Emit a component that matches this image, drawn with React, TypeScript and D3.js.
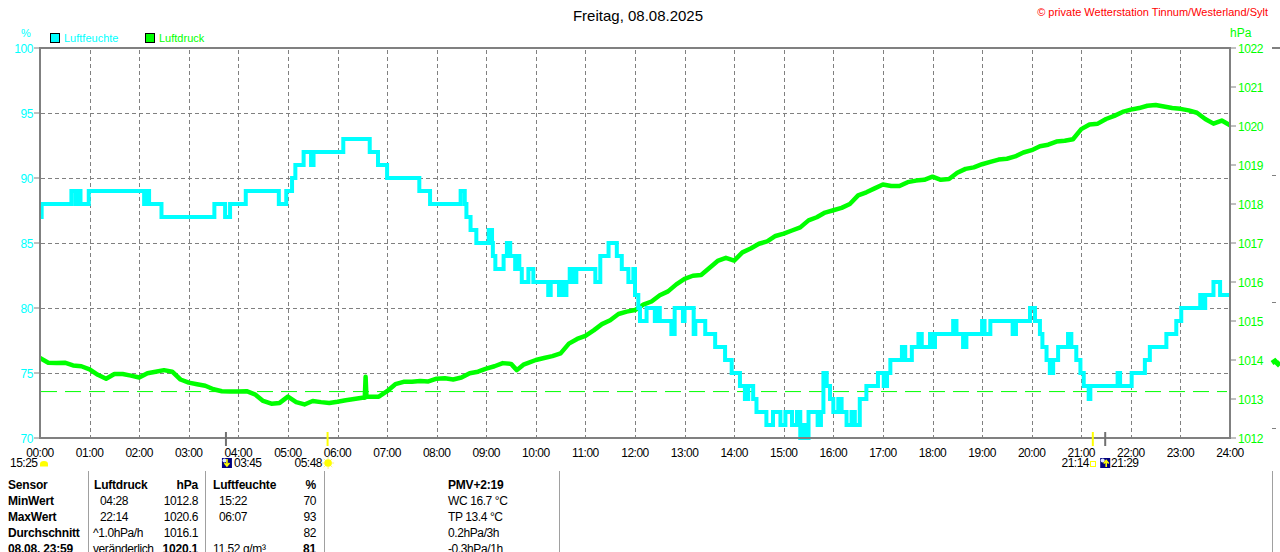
import React, { useEffect } from "react";
import * as d3 from "d3";

// ---------- data ----------
const title = "Freitag, 08.08.2025";
const copyright = "© private Wetterstation Tinnum/Westerland/Sylt";
const hourTicks = d3.range(0, 25);
const humidityTicks = [70, 75, 80, 85, 90, 95, 100];
const pressureTicks = [1012, 1013, 1014, 1015, 1016, 1017, 1018, 1019, 1020, 1021, 1022];
const humidityGrid = [75, 80, 85, 90, 95];
const referencePressure = 1013.19;

// humidity (%) step change points: [minute of day, value]
const humiditySteps: [number, number][] = [
  [0, 87], [2, 88], [38, 89], [43, 88], [46, 89], [49, 88], [59, 89], [126, 88], [128, 89], [132, 88],
  [147, 87], [211, 88], [224, 87], [230, 88], [249, 89], [289, 88], [298, 89], [305, 90], [309, 91],
  [319, 92], [328, 91], [331, 92], [367, 93], [399, 92], [409, 91], [420, 90], [459, 89], [472, 88],
  [509, 89], [514, 88], [516, 87], [521, 86], [528, 85], [543, 86], [547, 85], [548, 84], [551, 83],
  [561, 84], [565, 85], [569, 84], [575, 83], [577, 84], [580, 83], [583, 82], [591, 83], [597, 82],
  [615, 81], [618, 82], [628, 81], [631, 82], [634, 81], [637, 82], [641, 83], [645, 82], [649, 83],
  [672, 82], [678, 84], [688, 85], [698, 84], [704, 83], [712, 82], [718, 83], [720, 81], [724, 80],
  [726, 79], [734, 80], [744, 79], [747, 80], [750, 79], [764, 78], [768, 80], [778, 79], [780, 80],
  [791, 78], [793, 79], [805, 78], [817, 77], [829, 76], [837, 75], [847, 74], [853, 73], [857, 74],
  [863, 73], [867, 72], [879, 71], [887, 72], [896, 71], [902, 72], [910, 71], [916, 72], [920, 70],
  [924, 71], [926, 70], [930, 72], [941, 71], [945, 72], [948, 75], [952, 74], [956, 73], [960, 72],
  [966, 73], [970, 72], [976, 71], [982, 72], [986, 71], [992, 73], [1000, 74], [1014, 75], [1021, 74],
  [1025, 75], [1029, 76], [1043, 77], [1047, 76], [1055, 77], [1063, 78], [1067, 77], [1077, 78],
  [1080, 77], [1083, 78], [1105, 79], [1109, 78], [1117, 77], [1121, 78], [1140, 79], [1143, 78],
  [1150, 79], [1177, 78], [1181, 79], [1198, 80], [1204, 79], [1210, 78], [1213, 77], [1218, 76],
  [1222, 75], [1226, 76], [1232, 77], [1244, 78], [1248, 77], [1254, 76], [1259, 75], [1263, 74],
  [1269, 73], [1271, 74], [1304, 75], [1307, 74], [1321, 75], [1337, 76], [1343, 77], [1363, 78],
  [1375, 79], [1381, 80], [1404, 81], [1408, 80], [1410, 81], [1420, 82], [1428, 81], [1440, 81],
];

// air pressure (hPa): [minute of day, value]
const pressurePoints: [number, number][] = [
  [0, 1014.05], [10, 1013.93], [20, 1013.92], [30, 1013.93], [40, 1013.86], [50, 1013.84], [60, 1013.76],
  [70, 1013.62], [80, 1013.52], [90, 1013.64], [100, 1013.64], [110, 1013.6], [120, 1013.55], [130, 1013.66],
  [140, 1013.7], [150, 1013.74], [160, 1013.7], [170, 1013.5], [180, 1013.42], [190, 1013.38], [200, 1013.34],
  [210, 1013.25], [220, 1013.2], [230, 1013.19], [240, 1013.19], [250, 1013.2], [260, 1013.12], [270, 1012.95],
  [280, 1012.88], [290, 1012.9], [300, 1013.06], [310, 1012.92], [320, 1012.86], [330, 1012.95], [340, 1012.92],
  [350, 1012.9], [360, 1012.93], [370, 1012.97], [380, 1013.0], [390, 1013.03], [393, 1013.03], [394, 1013.57],
  [395, 1013.06], [400, 1013.06], [410, 1013.06], [420, 1013.2], [430, 1013.38], [440, 1013.44], [450, 1013.44],
  [460, 1013.46], [470, 1013.45], [480, 1013.52], [490, 1013.53], [500, 1013.5], [510, 1013.55], [520, 1013.66],
  [530, 1013.7], [540, 1013.78], [550, 1013.84], [560, 1013.92], [570, 1013.9], [577, 1013.74], [585, 1013.88],
  [590, 1013.92], [600, 1014.0], [610, 1014.05], [620, 1014.1], [630, 1014.17], [640, 1014.42], [650, 1014.54],
  [660, 1014.62], [670, 1014.76], [680, 1014.92], [690, 1015.02], [700, 1015.18], [710, 1015.24], [720, 1015.28],
  [730, 1015.42], [740, 1015.5], [750, 1015.66], [760, 1015.76], [770, 1015.94], [780, 1016.08], [790, 1016.16],
  [800, 1016.18], [810, 1016.36], [820, 1016.54], [830, 1016.62], [840, 1016.55], [850, 1016.76], [860, 1016.86],
  [870, 1016.98], [880, 1017.04], [890, 1017.18], [900, 1017.24], [910, 1017.32], [920, 1017.4], [930, 1017.58],
  [940, 1017.66], [950, 1017.78], [960, 1017.84], [970, 1017.9], [980, 1018.0], [990, 1018.22], [1000, 1018.3],
  [1010, 1018.4], [1020, 1018.5], [1030, 1018.46], [1040, 1018.46], [1050, 1018.56], [1060, 1018.6],
  [1070, 1018.62], [1080, 1018.7], [1090, 1018.62], [1100, 1018.64], [1110, 1018.8], [1120, 1018.9],
  [1130, 1018.94], [1140, 1019.02], [1150, 1019.08], [1160, 1019.14], [1170, 1019.16], [1180, 1019.22],
  [1190, 1019.32], [1200, 1019.38], [1210, 1019.48], [1220, 1019.52], [1230, 1019.6], [1240, 1019.62],
  [1250, 1019.66], [1260, 1019.92], [1270, 1020.04], [1280, 1020.06], [1290, 1020.18], [1300, 1020.26],
  [1310, 1020.36], [1320, 1020.42], [1330, 1020.46], [1340, 1020.52], [1350, 1020.54], [1360, 1020.5],
  [1370, 1020.46], [1380, 1020.44], [1390, 1020.4], [1400, 1020.34], [1410, 1020.18], [1420, 1020.06],
  [1430, 1020.14], [1440, 1020.02],
];

// sun / moon events (minute of day)
const moonSet = { label: "15:25" };
const moonRise1 = { minute: 225, label: "03:45" };
const sunRise = { minute: 348, label: "05:48" };
const sunSet = { minute: 1274, label: "21:14" };
const moonRise2 = { minute: 1289, label: "21:29" };

// table
const tableRows: string[][] = [
  ["Sensor", "Luftdruck", "hPa", "Luftfeuchte", "%", "PMV+2:19"],
  ["MinWert", "04:28", "1012.8", "15:22", "70", "WC 16.7 °C"],
  ["MaxWert", "22:14", "1020.6", "06:07", "93", "TP 13.4 °C"],
  ["Durchschnitt", "^1.0hPa/h", "1016.1", "", "82", "0.2hPa/3h"],
  ["08.08. 23:59", "veränderlich", "1020.1", "11.52 g/m³", "81", "-0.3hPa/1h"],
];
const tableDividers = [88, 205, 324, 559, 1272];

// ---------- chart ----------
const FONT = "'Liberation Sans', Arial, Helvetica, sans-serif";
const CYAN = "#00FFFF";
const GREEN = "#00FF00";
const GREY = "#808080";

export default function App() {
  useEffect(() => {
    document.body.style.margin = "0";
  }, []);

  const x = d3.scaleLinear().domain([0, 1440]).range([40, 1230]);
  const yH = d3.scaleLinear().domain([70, 100]).range([438, 48]);
  const yP = d3.scaleLinear().domain([1012, 1022]).range([438, 48]);

  const humLine = d3
    .line<[number, number]>()
    .x((d) => x(d[0]))
    .y((d) => yH(d[1]))
    .curve(d3.curveStepAfter);
  const presLine = d3
    .line<[number, number]>()
    .x((d) => x(d[0]))
    .y((d) => yP(d[1]));

  const hh = (h: number) => `${String(h).padStart(2, "0")}:00`;

  const rowY = [489, 505, 521, 537, 553];
  const boldCell = (r: number, c: number) =>
    r === 0 || c === 0 || (r === 4 && (c === 2 || c === 4));
  const colX = [8, 94, 198, 213, 316, 448];
  const colAnchor = ["start", "start", "end", "start", "end", "start"];
  const colShift = (r: number, c: number) => {
    if (r >= 1 && r <= 2 && c === 1) return 6;
    if (r >= 1 && r <= 2 && c === 3) return 6;
    if (r >= 3 && c === 1) return -1;
    return 0;
  };

  const moonIcon = (cx: number, up: boolean) => (
    <g>
      <rect x={cx - 5} y={458} width={10} height={10} fill="#000080" />
      <circle cx={cx - 2.5} cy={460.5} r={2} fill="#E0E8FF" />
      {up ? (
        <path d={`M${cx + 1},467 L${cx + 1},462 M${cx - 1.5},463.5 L${cx + 1},460.5 L${cx + 3.5},463.5`} stroke="#FFFF00" strokeWidth={1.6} fill="none" />
      ) : (
        <path d={`M${cx},459 L${cx},465 M${cx - 2.5},463 L${cx},466 L${cx + 2.5},463`} stroke="#FFFF00" strokeWidth={1.6} fill="none" />
      )}
    </g>
  );

  return (
    <svg
      width={1280}
      height={552}
      style={{ position: "fixed", left: 0, top: 0, background: "#fff" }}
      fontFamily={FONT}
    >
      <rect x={0} y={0} width={1280} height={552} fill="#fff" />
      {/* title */}
      <text x={638} y={21} textAnchor="middle" fontSize={15} fill="#000">
        {title}
      </text>
      <text x={1268} y={16} textAnchor="end" fontSize={11} fill="#FF0000">
        {copyright}
      </text>

      {/* legend */}
      <text x={26} y={37} textAnchor="middle" fontSize={11} fill={CYAN}>%</text>
      <rect x={50.5} y={33.5} width={9} height={9} fill={CYAN} stroke="#000" />
      <text x={64} y={42} fontSize={11} fill={CYAN}>Luftfeuchte</text>
      <rect x={145.5} y={33.5} width={9} height={9} fill={GREEN} stroke="#000" />
      <text x={159} y={42} fontSize={11} fill={GREEN}>Luftdruck</text>
      <text x={1230} y={37} fontSize={12} fill={GREEN}>hPa</text>

      {/* grid */}
      <g stroke={GREY} strokeWidth={1} strokeDasharray="4,3">
        {hourTicks.slice(1, 24).map((h) => (
          <line key={h} x1={Math.round(x(h * 60)) + 0.5} x2={Math.round(x(h * 60)) + 0.5} y1={50} y2={437} />
        ))}
        {humidityGrid.map((v) => (
          <line key={v} x1={41} x2={1229} y1={Math.round(yH(v)) + 0.5} y2={Math.round(yH(v)) + 0.5} />
        ))}
      </g>

      {/* reference dashed line */}
      <line
        x1={41}
        x2={1227}
        y1={yP(referencePressure)}
        y2={yP(referencePressure)}
        stroke={GREEN}
        strokeWidth={1}
        strokeDasharray="16,8"
      />

      {/* series */}
      <path d={presLine(pressurePoints) || ""} fill="none" stroke={GREEN} strokeWidth={4.5} strokeLinejoin="round" />
      <path d={humLine(humiditySteps) || ""} fill="none" stroke={CYAN} strokeWidth={4} strokeLinejoin="miter" />

      {/* frame */}
      <g stroke={GREY} strokeWidth={2} fill="none">
        <line x1={40} x2={40} y1={47} y2={439} />
        <line x1={1230} x2={1230} y1={47} y2={439} />
        <line x1={39} x2={1231} y1={48} y2={48} />
        <line x1={39} x2={1231} y1={438} y2={438} />
      </g>

      {/* left axis */}
      {humidityTicks.map((v) => (
        <g key={v}>
          <line x1={34} x2={40} y1={yH(v)} y2={yH(v)} stroke={GREY} strokeWidth={1} />
          <text x={33} y={yH(v) + 4.5} textAnchor="end" fontSize={12} fill={CYAN} letterSpacing={-0.4}>
            {v}
          </text>
        </g>
      ))}

      {/* right axis */}
      {pressureTicks.map((v) => (
        <g key={v}>
          <line x1={1230} x2={1236} y1={yP(v)} y2={yP(v)} stroke={GREY} strokeWidth={1} />
          <text x={1238} y={yP(v) + 4.5} fontSize={12} fill={GREEN} letterSpacing={-0.4}>
            {v}
          </text>
        </g>
      ))}

      {/* x axis labels */}
      {hourTicks.map((h) => (
        <text key={h} x={x(h * 60)} y={457} textAnchor="middle" fontSize={12} fill="#000" letterSpacing={-0.5}>
          {hh(h)}
        </text>
      ))}

      {/* sun/moon marks on axis */}
      <line x1={x(moonRise1.minute)} x2={x(moonRise1.minute)} y1={432} y2={446} stroke="#707070" strokeWidth={2} />
      <line x1={x(sunRise.minute)} x2={x(sunRise.minute)} y1={432} y2={446} stroke="#FFFF00" strokeWidth={2} />
      <line x1={x(sunSet.minute)} x2={x(sunSet.minute)} y1={432} y2={446} stroke="#FFFF00" strokeWidth={2} />
      <line x1={x(moonRise2.minute)} x2={x(moonRise2.minute)} y1={432} y2={446} stroke="#707070" strokeWidth={2} />

      {/* second row: events */}
      <g fontSize={12} fill="#000" letterSpacing={-0.5}>
        <text x={10} y={467}>{moonSet.label}</text>
        <text x={234} y={467}>{moonRise1.label}</text>
        <text x={322} y={467} textAnchor="end">{sunRise.label}</text>
        <text x={1089} y={467} textAnchor="end">{sunSet.label}</text>
        <text x={1111} y={467}>{moonRise2.label}</text>
      </g>
      <path d="M40,466.5 L40,464 A4,3 0 0 1 48,464 L48,466.5 Z" fill="#FFFF00" />
      {moonIcon(x(moonRise1.minute) + 1, false)}
      <g>
        {d3.range(8).map((i) => {
          const a = (i * Math.PI) / 4;
          const cx = x(sunRise.minute) + 0.5, cy = 463;
          return (
            <line key={i} x1={cx + Math.cos(a) * 3.5} y1={cy + Math.sin(a) * 3.5} x2={cx + Math.cos(a) * 6} y2={cy + Math.sin(a) * 6} stroke="#FFF080" strokeWidth={1} />
          );
        })}
        <circle cx={x(sunRise.minute) + 0.5} cy={463} r={3.8} fill="#FFFF00" />
      </g>
      <rect x={1090.5} y={461.5} width={5} height={5} fill="none" stroke="#FFFF00" strokeWidth={1} />
      {moonIcon(x(moonRise2.minute), true)}

      {/* fragments at far right */}
      <line x1={1272} x2={1280} y1={48} y2={48} stroke={GREY} strokeWidth={2} />
      <g stroke={GREY} strokeWidth={1}>
        <line x1={1272} x2={1276} y1={175.5} y2={175.5} />
        <line x1={1272} x2={1276} y1={302.5} y2={302.5} />
        <line x1={1272} x2={1276} y1={428.5} y2={428.5} />
      </g>
      <path d="M1272,363 L1275,361 L1278,364 L1280,362" stroke={GREEN} strokeWidth={5} fill="none" />

      {/* table */}
      <g stroke="#A0A0A0" strokeWidth={1}>
        {tableDividers.map((dx) => (
          <line key={dx} x1={dx + 0.5} x2={dx + 0.5} y1={471} y2={552} />
        ))}
      </g>
      <g fontSize={12} fill="#000">
        {tableRows.map((row, r) =>
          row.map((cell, c) =>
            cell ? (
              <text
                key={`${r}-${c}`}
                x={colX[c] + colShift(r, c)}
                y={rowY[r]}
                textAnchor={colAnchor[c] as any}
                fontWeight={boldCell(r, c) ? "bold" : "normal"}
                letterSpacing={boldCell(r, c) ? -0.2 : -0.4}
              >
                {cell}
              </text>
            ) : null
          )
        )}
      </g>
    </svg>
  );
}
